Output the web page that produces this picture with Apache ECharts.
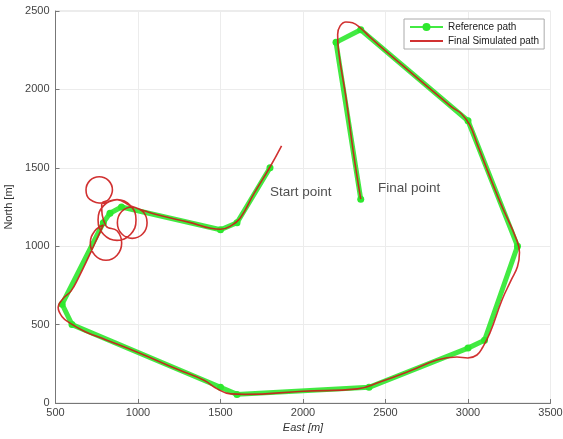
<!DOCTYPE html>
<html>
<head>
<meta charset="utf-8">
<script src="https://cdn.jsdelivr.net/npm/echarts@6/dist/echarts.min.js"></script>
<style>html,body{margin:0;padding:0;background:#fff}#c{width:563px;height:439px}</style>
</head>
<body>
<div id="c"></div>
<script>
// Reference path waypoints [East, North]
const referencePath = [
  [1800,1500],[1600,1150],[1500,1105],[900,1250],[830,1210],[790,1150],
  [540,630],[600,500],[1500,100],[1600,55],[2400,100],[3000,350],[3100,400],
  [3300,1000],[3000,1800],[2350,2380],[2200,2300],[2350,1300]
];
// Final simulated path [East, North]
const simulatedPath = [
  [1870,1640],[1800,1505],[1700,1330],[1620,1180],[1560,1128],[1500,1108],
  [1300,1155],[1100,1205],[1010,1236],
  // loop around (965,1150)
  [965,1250],[901,1221],[875,1150],[901,1079],[965,1050],[1029,1079],[1055,1150],[1029,1221],
  [950,1260],
  // loop around (873,1167)
  [873,1297],[792,1259],[758,1167],[792,1075],[873,1037],[954,1075],[988,1167],[954,1259],[873,1297],
  // loop around (765,1358)
  [790,1275],[708,1298],[685,1358],[708,1418],[765,1443],[822,1418],[845,1358],[822,1298],[780,1270],
  // loop around (806,1020)
  [806,1130],[873,1098],[901,1020],[873,942],[806,910],[739,942],[711,1020],[739,1098],[790,1135],
  [770,1090],[700,930],[640,800],[595,715],[545,665],[516,610],[540,550],[590,508],
  [680,455],[800,405],[1000,322],[1250,210],[1400,145],[1480,90],[1560,58],[1650,55],
  [2000,75],[2330,90],[2466,134],[2650,205],[2812,274],[2933,293],[2999,287],
  [3054,306],[3090,357],[3133,446],[3206,657],[3260,780],[3300,870],[3312,960],
  [3295,1040],[3187,1300],[3060,1640],[3012,1770],[2960,1845],[2900,1889],
  [2500,2246],[2400,2340],[2350,2390],[2300,2425],[2260,2430],[2225,2405],
  [2210,2350],[2215,2250],[2260,1950],[2305,1600],[2350,1300]
];
const annotations = [
  {name:'Start point', value:[1800,1346]},
  {name:'Final point', value:[2454,1371]}
];
const xRange = [500, 3500], yRange = [0, 2500], tickStep = 500;

const chart = echarts.init(document.getElementById('c'), null, {renderer:'canvas'});
const font = 'Liberation Sans, Arial, Helvetica, sans-serif';
chart.setOption({
  animation:false,
  backgroundColor:'#fff',
  grid:{left:55.5, right:12.5, top:11, bottom:36, show:true, borderColor:'#d8d8d8', borderWidth:1,
        containLabel:false, outerBoundsMode:'none'},
  legend:{
    left:404, top:19, orient:'vertical', itemWidth:33, itemHeight:10, itemGap:4,
    padding:[3,5,3,5], backgroundColor:'#fff', borderColor:'#aaa', borderWidth:1, borderRadius:0,
    textStyle:{fontSize:10, color:'#222', fontFamily:font},
    data:[
      {name:'Reference path'},
      {name:'Final Simulated path', itemStyle:{opacity:0}}
    ]
  },
  xAxis:{
    type:'value', min:xRange[0], max:xRange[1], interval:tickStep,
    name:'East [m]', nameLocation:'middle', nameGap:17,
    nameTextStyle:{fontSize:11, color:'#333', fontStyle:'italic', fontFamily:font},
    axisLine:{show:true, lineStyle:{color:'#777', width:1}},
    axisTick:{show:true, inside:true, length:4, lineStyle:{color:'#777'}},
    axisLabel:{fontSize:11, color:'#444', margin:4, fontFamily:font, formatter:v=>String(v)},
    splitLine:{show:true, lineStyle:{color:'#ececec', width:1}}
  },
  yAxis:{
    type:'value', min:yRange[0], max:yRange[1], interval:tickStep,
    name:'North [m]', nameLocation:'middle', nameGap:39,
    nameTextStyle:{fontSize:11, color:'#333', fontFamily:font},
    axisLine:{show:true, lineStyle:{color:'#777', width:1}},
    axisTick:{show:true, inside:true, length:4, lineStyle:{color:'#777'}},
    axisLabel:{fontSize:11, color:'#444', margin:6, fontFamily:font, formatter:v=>String(v)},
    splitLine:{show:true, lineStyle:{color:'#ececec', width:1}}
  },
  series:[
    {
      name:'Reference path', type:'line', data:referencePath,
      symbol:'circle', symbolSize:7, showSymbol:true,
      lineStyle:{color:'#2de82d', width:5, opacity:0.9},
      itemStyle:{color:'#2de82d'}, z:2
    },
    {
      name:'Final Simulated path', type:'line', data:simulatedPath,
      symbol:'none', smooth:0.45,
      lineStyle:{color:'#cc1b1b', width:1.6, opacity:0.9},
      itemStyle:{color:'#cc1b1b'}, z:3
    },
    {
      name:'labels', type:'scatter', data:annotations, symbolSize:0, silent:true,
      label:{show:true, position:'right', distance:0, formatter:'{b}', fontSize:13.5, color:'#222', fontFamily:font},
      z:4
    }
  ]
});
</script>
</body>
</html>
